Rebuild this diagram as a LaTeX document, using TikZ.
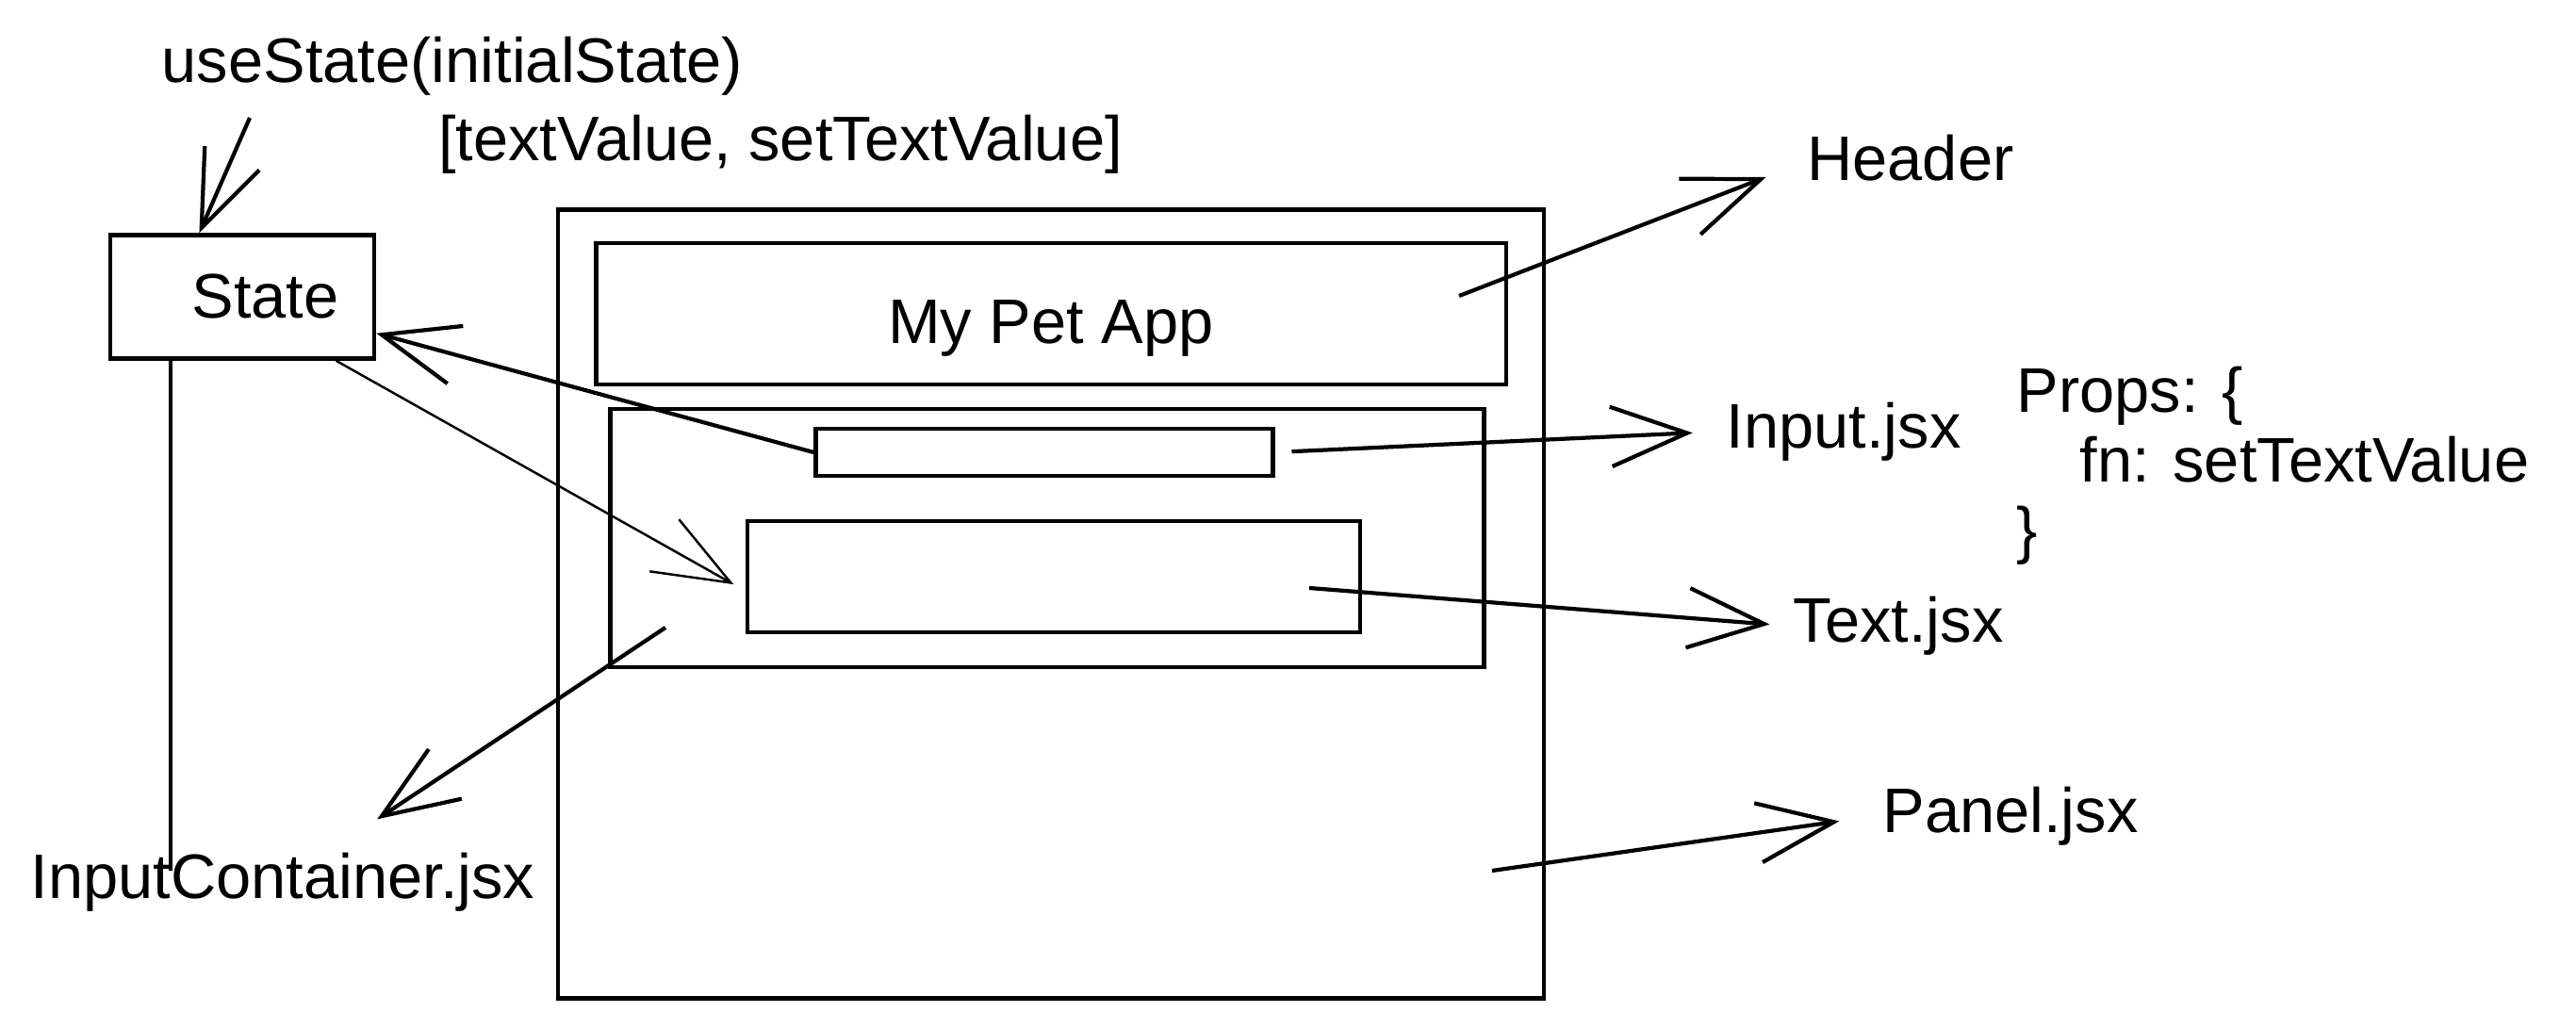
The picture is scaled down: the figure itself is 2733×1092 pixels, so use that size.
\documentclass[tikz,border=0pt]{standalone}
\usepackage{fontspec}
\setmainfont{Liberation Sans}
\usetikzlibrary{arrows.meta,calc,positioning}

\tikzset{
  box/.style={draw, line width=1.3pt, inner sep=0pt},
  lbl/.style={inner sep=2pt, text height=14pt, text depth=4pt},
  pointer/.style={line width=1.2pt, -{Straight Barb[length=23pt,width=18pt]}},
  tolabel/.style={pointer, shorten >=8pt},
}

\begin{document}
\begin{tikzpicture}[x=0.01cm, y=-0.01cm, font=\fontsize{19}{23}\selectfont]
    \useasboundingbox (0,0) rectangle (2733,1092);

    % State box and hook call
    \node[box, minimum width=2.8cm, minimum height=1.31cm] (state) at (257,315) {\hspace{14pt}State};
    \node[lbl] (usestate) at (480,70) {useState(initialState)};
    \node[lbl] (retval) at (828,153) {[textValue, setTextValue]};
    \coordinate (ustail) at (265,125);
    \draw[pointer] (ustail) -- ($(state.north west)!0.34!(state.north east)$);

    % App layout
    \node[box, minimum width=10.45cm, minimum height=8.37cm] (panel) at (1115,641) {};
    \node[box, minimum width=9.65cm, minimum height=1.5cm] (header) at (1115,333) {\raisebox{-9pt}[0pt][0pt]{My Pet App}};
    \node[box, minimum width=9.26cm, minimum height=2.74cm] (container) at (1111,571) {};
    \node[box, minimum width=4.85cm, minimum height=0.5cm] (inputbox) at (1108,480) {};
    \node[box, minimum width=6.5cm, minimum height=1.18cm] (textbox) at (1118,612) {};

    % Component names
    \node[lbl] (hdrlbl) at (2027,174) {Header};
    \node[lbl] (inplbl) at (1956,458) {Input.jsx};
    \node[lbl] (txtlbl) at (2014,664) {Text.jsx};
    \node[lbl] (panlbl) at (2133,866) {Panel.jsx};
    \node[lbl] (iclbl) at (300,936) {InputContainer.jsx};
    \node[anchor=west, align=left, inner sep=0pt, font=\fontsize{19}{21}\selectfont] (props) at (2139,494)
        {Props: \{\\\hspace*{1em}fn: setTextValue\\\}};

    % Data flow
    \draw[pointer] (inputbox.west) -- (state);
    \draw[pointer, line width=0.7pt, shorten >=4pt]
        ($(state.south west)!0.85!(state.south east)$) -- ($(textbox.west)+(0,15)$);
    \coordinate (legbot) at (181,924);
    \draw[line width=0.9pt] (state.south -| legbot) -- (legbot);

    % Pointers to names
    \coordinate (hdrtail) at (1548,314);
    \coordinate (txttail) at (1389,624);
    \coordinate (pantail) at (1583,924);
    \coordinate (ictail) at (706,666);
    \draw[tolabel, shorten >=11pt] (hdrtail) -- (hdrlbl.west);
    \draw[tolabel, shorten <=5pt] (inputbox.east) -- (inplbl.west);
    \draw[tolabel, shorten >=5pt] (txttail) -- (txtlbl.west);
    \draw[tolabel, shorten >=11pt] (pantail) -- (panlbl.west);
    \draw[tolabel, shorten >=14pt] (ictail) -- (iclbl);
\end{tikzpicture}
\end{document}
